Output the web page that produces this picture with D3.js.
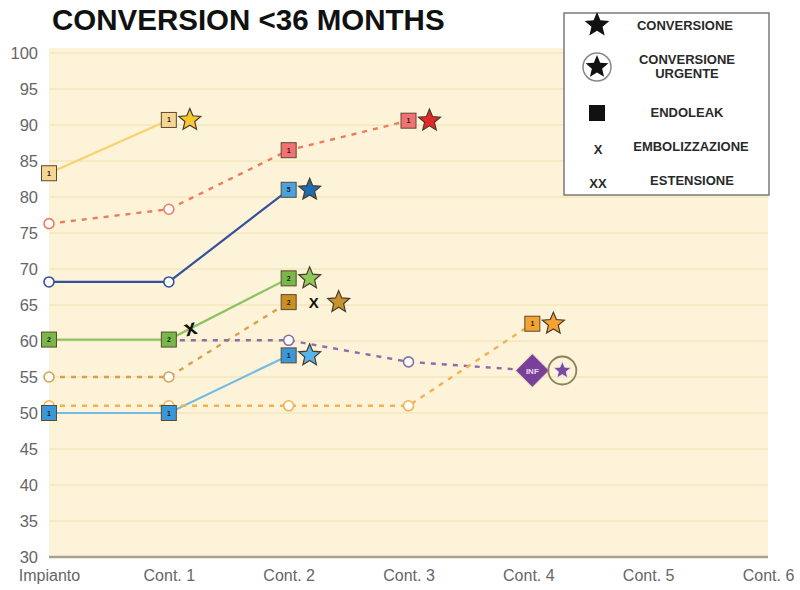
<!DOCTYPE html>
<html><head><meta charset="utf-8">
<script src="https://cdn.jsdelivr.net/npm/d3@7"></script>
<style>body{margin:0;background:#fff}svg{display:block}</style>
</head><body>
<script>
const categories = ["Impianto","Cont. 1","Cont. 2","Cont. 3","Cont. 4","Cont. 5","Cont. 6"];
const yTicks = [30,35,40,45,50,55,60,65,70,75,80,85,90,95,100];

// values per category (null = no point)
const sYellow = [83.3, 90.7, null, null, null, null, null];
const sRed    = [76.3, 78.3, 86.5, 90.6, null, null, null];
const sNavy   = [68.2, 68.2, 81.0, null, null, null, null];
const sGreen  = [60.2, 60.2, 68.7, null, null, null, null];
const sBrown  = [55.0, 55.0, 65.4, null, null, null, null];
const sPurple = [null, 60.1, 60.1, 57.1, 55.9, null, null];
const sSky    = [50.0, 50.0, 58.0, null, null, null, null];
const sOrange = [51.0, 51.0, 51.0, 51.0, 62.4, null, null];

// point markers: "o" follow-up, digit = endoleak type, "INF" infection, "" none
const mYellow = ["1","1","","","","",""];
const mRed    = ["o","o","1","1","","",""];
const mNavy   = ["o","o","5","","","",""];
const mGreen  = ["2","2","2","","","",""];
const mBrown  = ["o","o","2","","","",""];
const mPurple = ["","", "o","o","INF","",""];
const mSky    = ["1","1","1","","","",""];
const mOrange = ["o","o","o","o","1","",""];

// final event per series: "conv" conversion, "urg" urgent conversion
const series = [
  {name:"yellow", vals:sYellow, marks:mYellow, end:"conv", line:"#f7d26e", dash:null, sq:"#f7d592", star:"#f8c832"},
  {name:"red",    vals:sRed,    marks:mRed,    end:"conv", line:"#ef7b5e", dash:"5,6", sq:"#f07272", star:"#e02a2a"},
  {name:"navy",   vals:sNavy,   marks:mNavy,   end:"conv", line:"#34509e", dash:null, sq:"#4aa3e0", star:"#1d6db0"},
  {name:"green",  vals:sGreen,  marks:mGreen,  end:"conv", line:"#8dc262", dash:null, sq:"#78b84a", star:"#8cc95a"},
  {name:"brown",  vals:sBrown,  marks:mBrown,  end:"conv", line:"#d7a14e", dash:"5,6", sq:"#c98f22", star:"#c8922c", embolEnd:true},
  {name:"purple", vals:sPurple, marks:mPurple, end:"urg",  line:"#8a6fa8", dash:"5,6", sq:"#7a3f98", star:"#7a4aa2"},
  {name:"sky",    vals:sSky,    marks:mSky,    end:"conv", line:"#72bbe2", dash:null, sq:"#3a98d8", star:"#5ab2ea"},
  {name:"orange", vals:sOrange, marks:mOrange, end:"conv", line:"#f7b04e", dash:"5,6", sq:"#f5a232", star:"#f6a232"}
];
// embolization on green between Cont. 1 and Cont. 2
const embolGreen = {cat:1.18, val:61.8};

const W = 800, H = 590;
const FONT = "Liberation Sans, Arial, sans-serif";
const svg = d3.select("body").append("svg").attr("width",W).attr("height",H);

const x = d3.scalePoint().domain(categories).range([49, 768]);
const y = d3.scaleLinear().domain([30,100]).range([557, 53]);
const xi = i => x(categories[0]) + i * x.step();

// title
svg.append("text").attr("x",52).attr("y",30)
  .attr("font-family",FONT).attr("font-weight","bold")
  .attr("font-size",29.5).attr("fill","#111").text("CONVERSION <36 MONTHS");

// plot background
svg.append("rect").attr("x",49).attr("y",48).attr("width",719).attr("height",509).attr("fill","#fcf3d8");

// gridlines
svg.append("g").selectAll("line").data(yTicks.filter(t=>t>30)).join("line")
  .attr("x1",49).attr("x2",768).attr("y1",d=>y(d)).attr("y2",d=>y(d))
  .attr("stroke","#efe2b0").attr("stroke-width",1.2);
svg.append("line").attr("x1",49).attr("x2",768).attr("y1",y(30)).attr("y2",y(30))
  .attr("stroke","#a8a08c").attr("stroke-width",2.5);

// y axis labels
const yAxis = d3.axisLeft(y).tickValues(yTicks).tickSize(0).tickPadding(0);
const gy = svg.append("g").attr("transform","translate(38,0)").call(yAxis);
gy.select(".domain").remove();
gy.selectAll("text").attr("font-family",FONT)
  .attr("font-size",16.5).attr("fill","#666").attr("dy","0.35em");

// x axis labels
const xAxis = d3.axisBottom(x).tickSize(0).tickPadding(0);
const gx = svg.append("g").attr("transform","translate(0,570)").call(xAxis);
gx.select(".domain").remove();
gx.selectAll("text").attr("font-family",FONT)
  .attr("font-size",16).attr("fill","#666").attr("dy","0.71em");

// star path generator
function starPath(r){
  const pts=[];
  for(let i=0;i<10;i++){
    const a = -Math.PI/2 + i*Math.PI/5;
    const rr = i%2===0 ? r : r*0.45;
    pts.push([rr*Math.cos(a), rr*Math.sin(a)]);
  }
  return "M"+pts.map(p=>p[0].toFixed(2)+","+p[1].toFixed(2)).join("L")+"Z";
}
const px = (s,i) => xi(i) + (i===4 && s.marks[i]!=="o" ? 4 : 0);

// lines
const lineGen = d3.line().defined(d=>d.v!=null).x(d=>d.x).y(d=>y(d.v));
series.forEach(s=>{
  const pts = s.vals.map((v,i)=>({v, x: px(s,i)}));
  svg.append("path").datum(pts).attr("d",lineGen).attr("fill","none")
    .attr("stroke",s.line).attr("stroke-width",s.dash?2.4:2.2)
    .attr("stroke-dasharray",s.dash);
});

// markers: circles first, then squares/diamonds, then end events
const gCirc = svg.append("g"), gSq = svg.append("g"), gEnd = svg.append("g");
series.forEach(s=>{
  s.vals.forEach((v,i)=>{
    if(v==null) return;
    const m = s.marks[i];
    const cx = px(s,i), cy = y(v);
    if(m==="o"){
      gCirc.append("circle").attr("cx",cx).attr("cy",cy).attr("r",5)
        .attr("fill","#fff").attr("stroke",s.line).attr("stroke-width",1.6);
    } else if(m==="INF"){
      gSq.append("rect").attr("x",-12).attr("y",-12).attr("width",24).attr("height",24)
        .attr("transform",`translate(${cx},${cy}) rotate(45)`)
        .attr("fill",s.sq).attr("stroke","#e8dcc8").attr("stroke-width",1);
      gSq.append("text").attr("x",cx).attr("y",cy+3).attr("text-anchor","middle")
        .attr("font-family",FONT).attr("font-weight","bold")
        .attr("font-size",8).attr("fill","#e8d8f0").text("INF");
    } else if(m!==""){
      gSq.append("rect").attr("x",cx-7.5).attr("y",cy-7.5).attr("width",15).attr("height",15)
        .attr("fill",s.sq).attr("stroke","#5a4a30").attr("stroke-width",1);
      gSq.append("text").attr("x",cx).attr("y",cy+2.5).attr("text-anchor","middle")
        .attr("font-family",FONT).attr("font-weight","bold")
        .attr("font-size",7).attr("fill","#222").text(m);
    }
  });
  let last = -1; s.vals.forEach((v,i)=>{ if(v!=null) last=i; });
  const lx = px(s,last), ly = y(s.vals[last]);
  if(s.end==="conv"){
    const off = s.embolEnd ? 50 : 21;
    if(s.embolEnd){
      gEnd.append("text").attr("x",lx+25).attr("y",ly+5.5).attr("text-anchor","middle")
        .attr("font-family",FONT).attr("font-weight","bold")
        .attr("font-size",15).attr("fill","#111").text("X");
    }
    gEnd.append("path").attr("d",starPath(11.5)).attr("transform",`translate(${lx+off},${ly})`)
      .attr("fill",s.star).attr("stroke","#4a3a2a").attr("stroke-width",1.2);
  } else {
    gEnd.append("circle").attr("cx",lx+30).attr("cy",ly).attr("r",14)
      .attr("fill","none").attr("stroke","#8a8258").attr("stroke-width",1.8);
    gEnd.append("path").attr("d",starPath(9)).attr("transform",`translate(${lx+30},${ly})`)
      .attr("fill",s.star).attr("stroke","#e8e0f0").attr("stroke-width",0.8);
  }
});

// embolization mark on green line
gEnd.append("text").attr("x",xi(embolGreen.cat)).attr("y",y(embolGreen.val)+7)
  .attr("text-anchor","middle").attr("transform",`rotate(-15,${xi(embolGreen.cat)},${y(embolGreen.val)})`)
  .attr("font-family",FONT).attr("font-weight","bold")
  .attr("font-size",22).attr("fill","#111").text("x");

// legend
const lg = svg.append("g");
lg.append("rect").attr("x",564).attr("y",13).attr("width",205).attr("height",182)
  .attr("fill","#fff").attr("stroke","#7a7a7a").attr("stroke-width",1.5);
const lgFont = t => t.attr("font-family",FONT).attr("font-weight","bold")
  .attr("font-size",13).attr("fill","#2a2a2a").attr("text-anchor","middle");
lg.append("path").attr("d",starPath(13)).attr("transform","translate(597,25)").attr("fill","#111");
lgFont(lg.append("text").attr("x",685).attr("y",30).text("CONVERSIONE"));
lg.append("circle").attr("cx",597).attr("cy",67).attr("r",14).attr("fill","none").attr("stroke","#888").attr("stroke-width",1.5);
lg.append("path").attr("d",starPath(12)).attr("transform","translate(597,67)").attr("fill","#111");
lgFont(lg.append("text").attr("x",687).attr("y",64).text("CONVERSIONE"));
lgFont(lg.append("text").attr("x",687).attr("y",78).text("URGENTE"));
lg.append("rect").attr("x",589).attr("y",105).attr("width",16).attr("height",16).attr("fill","#111");
lgFont(lg.append("text").attr("x",687).attr("y",117).text("ENDOLEAK"));
lgFont(lg.append("text").attr("x",598).attr("y",154).text("X"));
lgFont(lg.append("text").attr("x",691).attr("y",151).text("EMBOLIZZAZIONE"));
lgFont(lg.append("text").attr("x",598).attr("y",188).text("XX"));
lgFont(lg.append("text").attr("x",692).attr("y",185).text("ESTENSIONE"));
</script>
</body></html>
